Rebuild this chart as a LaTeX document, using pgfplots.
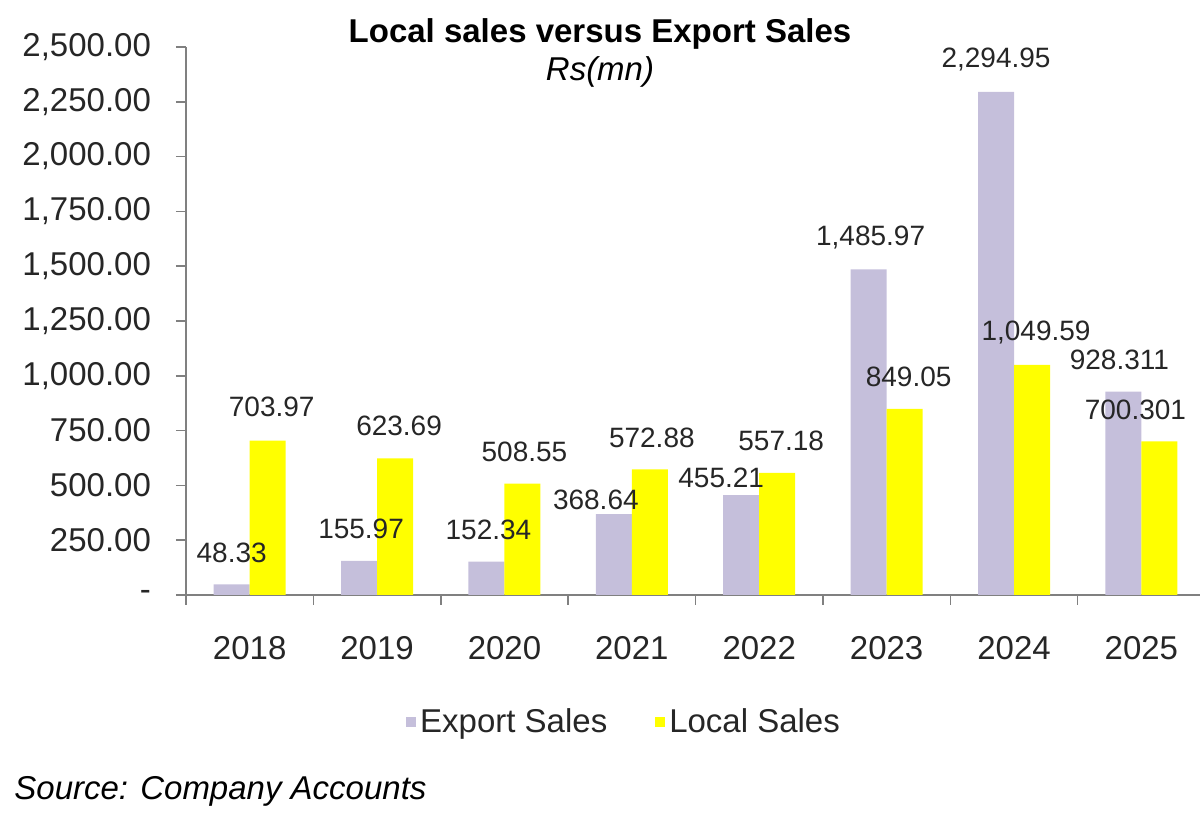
\documentclass[border=0pt]{standalone}
\usepackage{pgfplots}
\pgfplotsset{compat=1.18}
\usepackage{pgfplotstable}
\usepackage{fontspec}
\setmainfont{Liberation Sans}
\definecolor{exportc}{RGB}{197,191,219}
\definecolor{localc}{RGB}{255,255,0}
\definecolor{axisc}{RGB}{128,128,128}
\pgfplotstableread{
x y label dx dy
0 48.33 48.33 0 16
1 155.97 155.97 1 16
2 152.34 152.34 1 16
3 368.64 368.64 -9 7
4 455.21 455.21 -10 8.5
5 1485.97 {1,485.97} 1 16
6 2294.95 {2,294.95} 0 16
7 928.311 928.311 -2 16
}\exportdata
\pgfplotstableread{
x y label dx dy
0 703.97 703.97 2 17
1 623.69 623.69 2 16
2 508.55 508.55 1 16
3 572.88 572.88 1 16
4 557.18 557.18 2 16
5 849.05 849.05 2 16
6 1049.59 {1,049.59} 2 16
7 700.301 700.301 -12 16
}\localdata
\begin{document}
\begin{tikzpicture}
\useasboundingbox (0,0) rectangle (600pt,408.5pt);
\node[anchor=base, font=\fontsize{16.5}{19}\selectfont\bfseries] at (300pt,387pt) {Local sales versus Export Sales};
\node[anchor=base, font=\fontsize{16.5}{19}\selectfont\itshape] at (300pt,368pt) {Rs(mn)};
\node[anchor=base west, font=\fontsize{16.5}{19}\selectfont\itshape, inner sep=0pt] at (7pt,8.5pt) {Source: Company Accounts};
\begin{axis}[
  at={(93pt,111pt)}, anchor=south west,
  scale only axis, width=507pt, height=274pt,
  xmin=-0.5, xmax=7.46, ymin=0, ymax=2500,
  axis lines*=left,
  axis line style={draw=axisc, line width=0.75pt},
  every tick/.style={draw=axisc, line width=0.75pt},
  tick align=outside,
  ytick={0,250,...,2500},
  yticklabels={-,250.00,500.00,750.00,{1,000.00},{1,250.00},{1,500.00},{1,750.00},{2,000.00},{2,250.00},{2,500.00}},
  major tick length=5pt,
  minor tick length=5pt,
  xtick={0,...,7},
  xticklabels={2018,2019,2020,2021,2022,2023,2024,2025},
  major x tick style={draw=none},
  minor xtick={-0.5,0.5,...,6.5},
  ticklabel style={font=\fontsize{16.5}{19}\selectfont, text=black!85},
  yticklabel style={anchor=east, xshift=-9pt},
  xticklabel style={anchor=north, yshift=-12pt},
  ybar, bar width=18pt,
  nodes near coords,
  point meta=explicit symbolic,
  visualization depends on={\thisrow{dx}\as\dx},
  visualization depends on={\thisrow{dy}\as\dy},
  nodes near coords style={anchor=center, xshift=\dx pt, yshift=\dy pt, font=\fontsize{14}{16}\selectfont, text=black!85},
  legend style={at={(0.433,-0.232)}, anchor=center, draw=none, fill=none,
    legend columns=2, font=\fontsize{16.5}{19}\selectfont, text=black!85,
    /tikz/column 2/.style={column sep=22pt}},
  legend image code/.code={\fill[#1, draw=none] (0pt,-2.5pt) rectangle (5pt,2.5pt);},
  clip=false,
]
\addplot[fill=exportc, draw=none, bar shift=-9pt] table[x=x, y=y, meta=label] {\exportdata};
\addplot[fill=localc, draw=none, bar shift=9pt] table[x=x, y=y, meta=label] {\localdata};
\legend{Export Sales, Local Sales}
\end{axis}
\end{tikzpicture}
\end{document}
